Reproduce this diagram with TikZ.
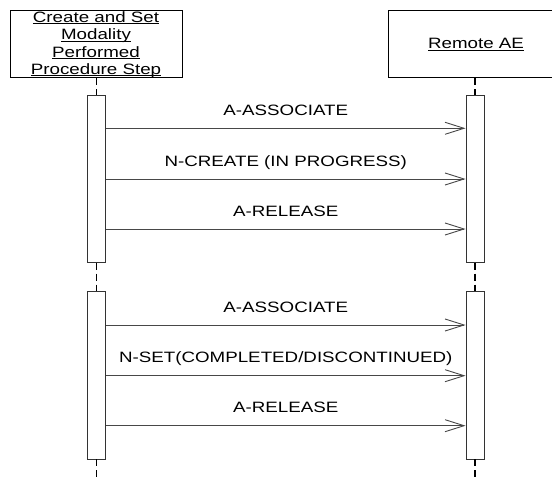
\documentclass[tikz,border=0pt]{standalone}
\usepackage{fontspec}
\setmainfont{Liberation Sans}[FakeStretch=1.25]
\usetikzlibrary{arrows.meta}
\newsavebox\ulbox
\newcommand\ulx[1]{\sbox\ulbox{#1}\rlap{\rule[-1.6pt]{\wd\ulbox}{0.7pt}}\usebox\ulbox}
\tikzset{
  hdr/.style={draw=black, line width=1pt, fill=white, inner sep=0pt, align=center,
    font=\fontsize{15}{17.3}\selectfont},
  act/.style={draw=black!80, line width=0.9pt, fill=white, minimum width=18pt,
    minimum height=167.3pt, inner sep=0pt},
  life/.style={draw=black, line width=1.1pt, dash pattern=on 7pt off 4pt},
  msg/.style={draw=black!72, line width=0.9pt,
    -{Straight Barb[length=19pt,width=12pt,line width=0.9pt]}},
  lbl/.style={font=\fontsize{15}{17.3}\selectfont, inner sep=0pt, anchor=base, yshift=12.8pt}
}
\begin{document}
\begin{tikzpicture}[x=1pt,y=-1pt]
\useasboundingbox (0,0) rectangle (552,481);
\clip (0,0) rectangle (552,481);
% headers
\node[hdr, minimum width=172pt, minimum height=67pt] (A) at (96,44.5)
  {\ulx{Create and Set}\\ \ulx{Modality}\\ \ulx{Performed}\\ \ulx{Procedure Step}};
\node[hdr, minimum width=176pt, minimum height=67pt] (B) at (476,44.5) {\ulx{Remote AE}};
% activation boxes
\node[act] (L1) at (96.5,178.65) {};
\node[act] (L2) at (96.5,375.35) {};
\node[act] (R1) at (475,178.65) {};
\node[act] (R2) at (475,375.35) {};
\coordinate (Lend) at (96.5,481);
\coordinate (Rend) at (475,481);
% lifelines
\draw[life] (L1.north |- A.south) -- (L1.north);
\draw[life] (L1.south) -- (L2.north);
\draw[life] (L2.south) -- (Lend);
\draw[life] (R1.north |- B.south) -- (R1.north);
\draw[life] (R1.south) -- (R2.north);
\draw[life] (R2.south) -- (Rend);
% messages
\draw[msg] (L1.east |- 0,128.3) -- node[lbl]{A-ASSOCIATE} (R1.west |- 0,128.3);
\draw[msg] (L1.east |- 0,179) -- node[lbl]{N-CREATE (IN PROGRESS)} (R1.west |- 0,179);
\draw[msg] (L1.east |- 0,229) -- node[lbl]{A-RELEASE} (R1.west |- 0,229);
\draw[msg] (L2.east |- 0,325) -- node[lbl]{A-ASSOCIATE} (R2.west |- 0,325);
\draw[msg] (L2.east |- 0,375.7) -- node[lbl]{N-SET(COMPLETED/DISCONTINUED)} (R2.west |- 0,375.7);
\draw[msg] (L2.east |- 0,425.7) -- node[lbl]{A-RELEASE} (R2.west |- 0,425.7);
\end{tikzpicture}
\end{document}
